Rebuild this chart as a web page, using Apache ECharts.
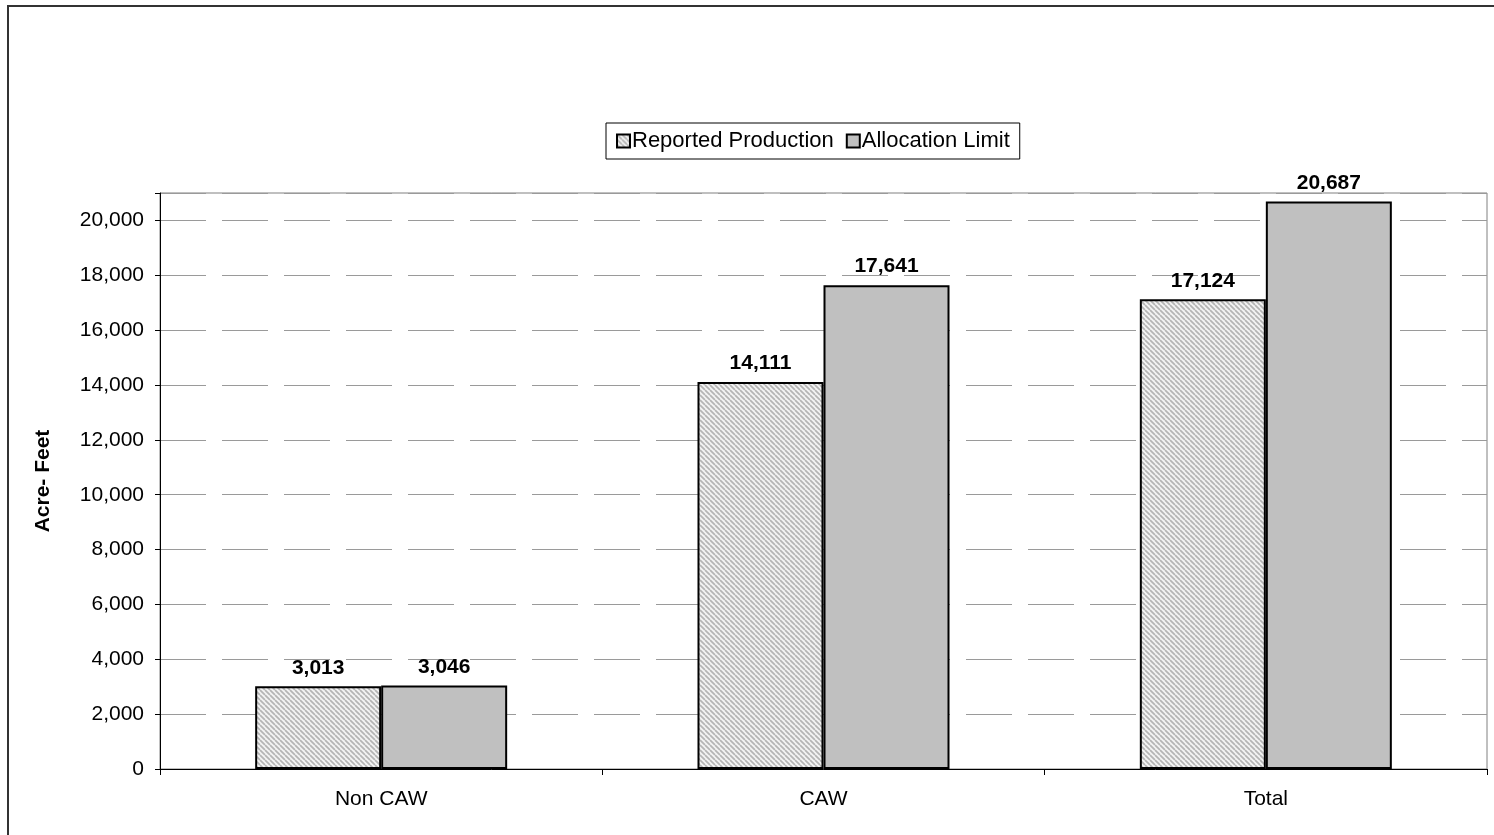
<!DOCTYPE html>
<html>
<head>
<meta charset="utf-8">
<title>Reported Production vs Allocation Limit</title>
<script src="https://cdn.jsdelivr.net/npm/echarts@6/dist/echarts.min.js"></script>
<style>
  html, body { margin: 0; padding: 0; background: #fff; }
  #chart { width: 1494px; height: 835px; }
</style>
</head>
<body>
<div id="chart"></div>
<script>
// Categories and values (acre-feet)
const categories = ['Non CAW', 'CAW', 'Total'];
const reportedProduction = [3013, 14111, 17124];
const allocationLimit = [3046, 17641, 20687];
const seriesNames = ['Reported Production', 'Allocation Limit'];
const yMin = 0;
const yMax = 21000;
const yStep = 2000;

// Fine diagonal hatch fill for the first series
function makeHatch() {
  const c = document.createElement('canvas');
  const s = 5;
  c.width = s; c.height = s;
  const ctx = c.getContext('2d');
  ctx.fillStyle = '#f2f2f2';
  ctx.fillRect(0, 0, s, s);
  ctx.strokeStyle = '#b4b4b4';
  ctx.lineWidth = 1.7;
  ctx.beginPath();
  for (let k = -1; k <= 1; k++) {
    ctx.moveTo(k * s, 0);
    ctx.lineTo(k * s + s, s);
  }
  ctx.stroke();
  return c;
}

const fmt = v => v.toLocaleString('en-US');
const font = '"Liberation Sans", Arial, sans-serif';

const chart = echarts.init(document.getElementById('chart'), null, { renderer: 'canvas' });

const labelStyle = {
  show: true,
  position: 'top',
  distance: 8,
  color: '#000',
  fontFamily: font,
  fontWeight: 'bold',
  fontSize: 21,
  formatter: p => fmt(p.value)
};

chart.setOption({
  backgroundColor: '#fff',
  animation: false,
  graphic: [{
    type: 'rect',
    shape: { x: 8, y: 6, width: 1500, height: 860 },
    style: { fill: null, stroke: '#333', lineWidth: 2 },
    silent: true
  }],
  legend: {
    data: seriesNames,
    left: 606,
    top: 123,
    padding: [7, 10, 7, 10],
    itemGap: 12,
    itemWidth: 13,
    itemHeight: 13,
    icon: 'rect',
    itemStyle: { borderColor: '#000', borderWidth: 2 },
    borderColor: '#000',
    borderWidth: 1,
    textStyle: { fontFamily: font, fontSize: 22, color: '#000', padding: [0, 0, 0, -3] }
  },
  grid: {
    left: 160,
    right: 7,
    top: 193,
    bottom: 66,
    show: true,
    borderColor: '#808080',
    borderWidth: 1,
    containLabel: false
  },
  xAxis: {
    type: 'category',
    data: categories,
    axisLine: { lineStyle: { color: '#000', width: 1 } },
    axisTick: { show: true, length: 6, lineStyle: { color: '#000' } },
    axisLabel: { color: '#000', fontFamily: font, fontSize: 21, margin: 20 },
    splitLine: { show: false }
  },
  yAxis: {
    type: 'value',
    min: yMin,
    max: yMax,
    interval: yStep,
    name: 'Acre- Feet',
    nameLocation: 'middle',
    nameGap: 106,
    nameTextStyle: { color: '#000', fontFamily: font, fontWeight: 'bold', fontSize: 21 },
    axisLine: { show: true, lineStyle: { color: '#000', width: 1 } },
    axisTick: { show: true, length: 5, lineStyle: { color: '#000' } },
    axisLabel: {
      color: '#000',
      fontFamily: font,
      fontSize: 21,
      margin: 16,
      formatter: v => (v % yStep === 0 ? fmt(v) : '')
    },
    splitLine: { show: true, lineStyle: { color: '#9a9a9a', width: 1, type: [46, 16] } }
  },
  series: [
    {
      name: seriesNames[0],
      type: 'bar',
      data: reportedProduction,
      barWidth: 126,
      barGap: '0%',
      itemStyle: {
        color: { image: makeHatch(), repeat: 'repeat' },
        borderColor: '#000',
        borderWidth: 2
      },
      label: labelStyle
    },
    {
      name: seriesNames[1],
      type: 'bar',
      data: allocationLimit,
      barWidth: 126,
      barGap: '0%',
      itemStyle: { color: '#c0c0c0', borderColor: '#000', borderWidth: 2 },
      label: labelStyle
    }
  ]
});
</script>
</body>
</html>
